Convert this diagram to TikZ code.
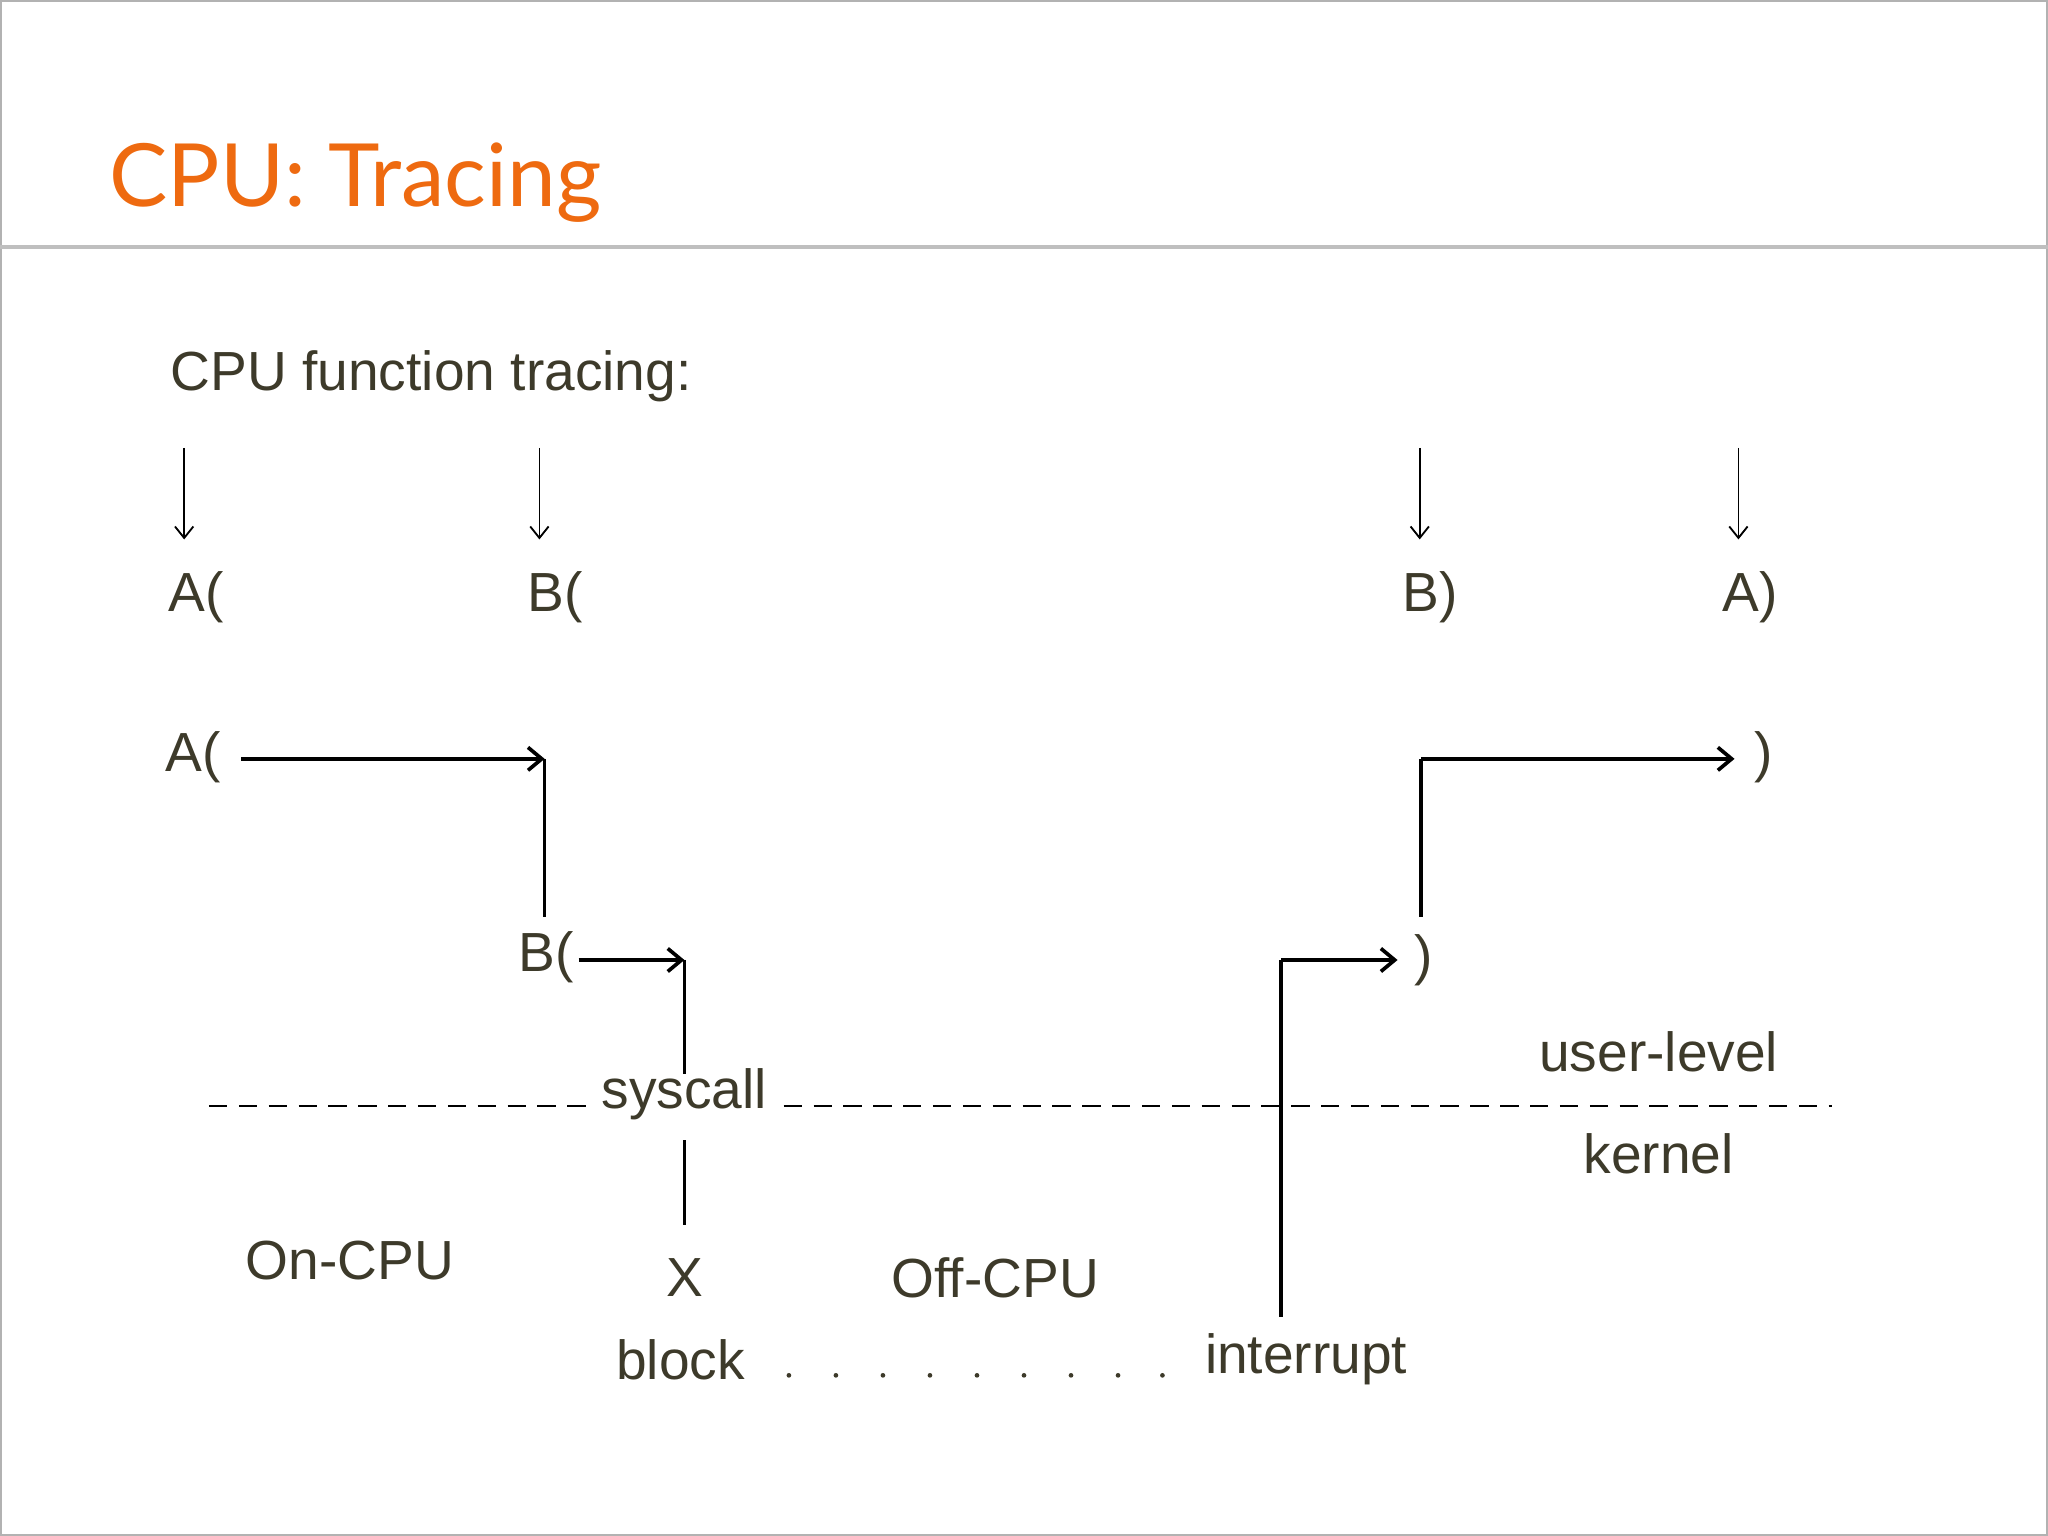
\documentclass[tikz,border=0pt]{standalone}
\usepackage{fontspec}
\setmainfont{Liberation Sans}
\newfontfamily\titlefont{Lato}
\usetikzlibrary{arrows.meta}
\definecolor{txt}{HTML}{3D3A2A}
\definecolor{orng}{HTML}{EE6A10}
\begin{document}
\begin{tikzpicture}[x=0.01cm,y=-0.01cm,
  lbl/.style={text=txt,font=\fontsize{12pt}{14pt}\selectfont,inner sep=0pt},
  thin/.style={line width=0.4pt,-{Straight Barb[length=2.5pt,width=4pt]}},
  flow/.style={line width=0.8pt,-{Straight Barb[length=3pt,width=5pt]}},
  seg/.style={line width=0.8pt}]
\useasboundingbox (0,0) rectangle (1568,1176);
\draw[gray!60,line width=0.4pt] (0.5,0.5) rectangle (1567.5,1175.5);
\draw[gray!50,line width=0.8pt] (0,189) -- (1568,189);
\node[anchor=base west,text=orng,inner sep=0pt,font=\titlefont\fontsize{19pt}{22pt}\selectfont] (title) at (83,158) {CPU: Tracing};
\node[lbl,anchor=west] (hdr) at (130,288) {CPU function tracing:};
% top row
\foreach \n/\x/\t in {a/141/A(,b/413/B(,c/1087/B),d/1331/A)}{
  \coordinate (s\n) at (\x,343);
  \coordinate (e\n) at (\x,413);
  \draw[thin] (s\n) -- (e\n);
}
\node[lbl] (ta) at (150,457) {A(};
\node[lbl] (tb) at (425,457) {B(};
\node[lbl] (tc) at (1095,457) {B)};
\node[lbl] (td) at (1340,457) {A)};
% flow
\node[lbl] (fa) at (148,580) {A(};
\coordinate (p1) at (417,581);
\coordinate (p2) at (417,702);
\draw[flow] (fa.east)++(15,1) -- (p1);
\draw[seg] (p1) -- (p2);
\node[lbl] (fb) at (418,733) {B(};
\coordinate (q1) at (524,735);
\coordinate (q2) at (524,822);
\draw[flow] (443,735) -- (q1);
\draw[seg] (q1) -- (q2);
\node[lbl] (sys) at (524,838) {syscall};
\coordinate (q3) at (524,873);
\coordinate (q4) at (524,938);
\draw[seg] (q3) -- (q4);
\node[lbl] (x) at (524,978) {X};
\node[lbl] (on) at (268,965) {On-CPU};
\node[lbl] (off) at (762,978) {Off-CPU};
\node[lbl] (blk) at (521,1041) {block};
\foreach \x in {604,640,676,712,748,784,820,856,890}
  \fill[txt] (\x,1053) circle (1.8);
\node[lbl] (intr) at (1000,1041) {interrupt};
\coordinate (r0) at (981,1008);
\coordinate (r1) at (981,735);
\node[lbl] (rp1) at (1090,735) {)};
\draw[seg] (r0) -- (r1);
\draw[flow] (r1) -- (1070,735);
\coordinate (u0) at (1088,702);
\coordinate (u1) at (1088,581);
\node[lbl] (rp2) at (1350,580) {)};
\draw[seg] (u0) -- (u1);
\draw[flow] (u1) -- (1328,581);
% boundary
\draw[dashed,line width=0.5pt,dash pattern=on 4pt off 2.5pt] (160,847) -- (455,847);
\draw[dashed,line width=0.5pt,dash pattern=on 4pt off 2.5pt] (600,847) -- (1403,847);
\node[lbl] (ul) at (1270,805) {user-level};
\node[lbl] (kn) at (1270,883) {kernel};
\end{tikzpicture}
\end{document}
